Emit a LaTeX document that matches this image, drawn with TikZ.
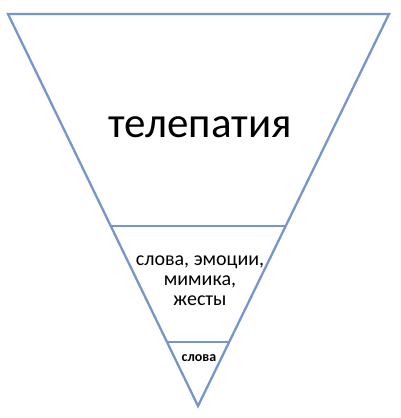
\documentclass[tikz,border=0pt]{standalone}
\usepackage{fontspec}
\setmainfont{Carlito}
\usetikzlibrary{calc}
\definecolor{edgeblue}{RGB}{118,150,202}
\begin{document}
\begin{tikzpicture}[x=1pt,y=1pt]
  \useasboundingbox (0,0) rectangle (401,418);
  \tikzset{
    level/.style={draw=edgeblue, line width=2.3pt, line join=miter},
    label/.style={align=center, text=black, inner sep=0pt}
  }
  \coordinate (tl) at (8,404);
  \coordinate (tr) at (389,404);
  \coordinate (apex) at (198,12);
  \coordinate (ml) at ($(tl)!0.541!(apex)$);
  \coordinate (mr) at ($(tr)!0.541!(apex)$);
  \coordinate (ll) at ($(tl)!0.837!(apex)$);
  \coordinate (lr) at ($(tr)!0.837!(apex)$);
  \draw[level] (tl) -- (tr) -- (apex) -- cycle;
  \draw[level] (ml) -- (mr);
  \draw[level] (ll) -- (lr);
  \node[label, font=\fontsize{43}{48}\selectfont] (telepathy) at (200,291) {телепатия};
  \node[label, font=\fontsize{20}{20}\selectfont] (signs) at (200,137) {слова, эмоции,\\мимика,\\жесты};
  \node[label, font=\fontsize{14}{16}\selectfont\bfseries] (words) at (199,60) {слова};
\end{tikzpicture}
\end{document}
